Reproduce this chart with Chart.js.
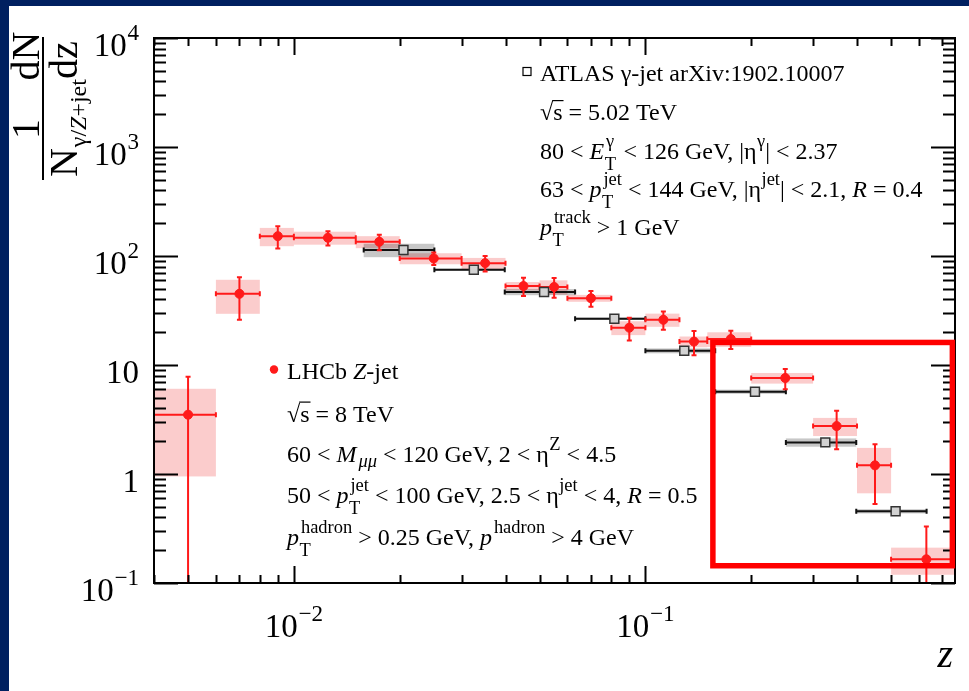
<!DOCTYPE html>
<html>
<head>
<meta charset="utf-8">
<script src="https://cdn.jsdelivr.net/npm/chart.js@4.4.1/dist/chart.umd.min.js"></script>
<style>
  html, body { margin: 0; padding: 0; background: #fff; }
  canvas { display: block; }
</style>
</head>
<body>
<canvas id="chartZ" width="969" height="691"></canvas>
<script>
// ===== axis ranges =====
const X_MIN = 0.004, X_MAX = 0.76;
const Y_MIN = 0.1, Y_MAX = 1e4;

// ===== LHCb Z-jet, sqrt(s) = 8 TeV =====
const lhcbZ     = [0.005, 0.007, 0.009, 0.0125, 0.0175, 0.025, 0.035, 0.045, 0.055, 0.07, 0.09, 0.1125, 0.1375, 0.175, 0.25, 0.35, 0.45, 0.63];
const lhcbZLow  = [0.004, 0.006, 0.008, 0.01, 0.015, 0.02, 0.03, 0.04, 0.05, 0.06, 0.08, 0.1, 0.125, 0.15, 0.2, 0.3, 0.4, 0.5];
const lhcbZHigh = [0.006, 0.008, 0.01, 0.015, 0.02, 0.03, 0.04, 0.05, 0.06, 0.08, 0.1, 0.125, 0.15, 0.2, 0.3, 0.4, 0.5, 0.76];
const lhcbVal   = [3.5, 45, 152, 147, 135, 95, 86, 53, 52, 41, 22, 26, 16.4, 17.3, 7.6, 2.75, 1.2, 0.165];
const lhcbStat  = [4.3, 19, 35, 22, 22, 12.5, 14, 10, 10.7, 6.7, 5.2, 4.9, 4.1, 3.3, 1.6, 1.06, 0.67, 0.165];
const lhcbSyst  = [2.55, 15.5, 29, 20, 17, 11, 10, 4.7, 7.8, 3, 3.2, 3.6, 1.85, 2.65, 0.85, 0.52, 0.535, 0.046];

// ===== ATLAS gamma-jet, sqrt(s) = 5.02 TeV =====
const atlasZ     = [0.0205, 0.0325, 0.0515, 0.0816, 0.129, 0.205, 0.325, 0.515];
const atlasZLow  = [0.0158, 0.0251, 0.0398, 0.0631, 0.1, 0.158, 0.251, 0.398];
const atlasZHigh = [0.0251, 0.0398, 0.0631, 0.1, 0.158, 0.251, 0.398, 0.631];
const atlasVal   = [113.5, 74.8, 46.7, 26.6, 13.5, 5.69, 1.95, 0.455];
const atlasSyst  = [16, 1.5, 3, 0.6, 0.7, 0.25, 0.17, 0.02];

// high-z region marked with a frame
const boxZ = [0.1556, 0.747];
const boxY = [0.144, 16.1];

// tick labels: [mantissa, exponent]
const yMajor  = [0.1, 1, 10, 100, 1000, 10000];
const yLabels = [['10', '−1'], ['1', ''], ['10', ''], ['10', '2'], ['10', '3'], ['10', '4']];
const xMajor  = [0.01, 0.1];
const xLabels = [['10', '−2'], ['10', '−1']];

const NAVY = '#002060';
const RED = '#ff1a1a';
const SERIF = '"Liberation Serif", "Times New Roman", serif';

function fontOf(size, italic) {
  return (italic ? 'italic ' : '') + size + 'px ' + SERIF;
}

// ----- small TLatex-like text helper -----
function scriptRuns(s) {
  return typeof s === 'string' ? [{ t: s }] : s;
}
function measureRuns(ctx, runs, size) {
  let w = 0;
  runs.forEach(r => { ctx.font = fontOf(size, r.it); w += ctx.measureText(r.t).width; });
  return w;
}
function drawRuns(ctx, runs, x, y, size) {
  runs.forEach(r => {
    ctx.font = fontOf(size, r.it);
    ctx.fillText(r.t, x, y);
    x += ctx.measureText(r.t).width;
  });
}
function partWidth(ctx, p, size, k) {
  ctx.font = fontOf(size, p.it);
  let w = ctx.measureText(p.t).width;
  if (p.root) w += ctx.measureText('√').width;
  let sw = 0;
  if (p.sup) sw = Math.max(sw, measureRuns(ctx, scriptRuns(p.sup), size * k));
  if (p.sub) sw = Math.max(sw, measureRuns(ctx, scriptRuns(p.sub), size * k));
  if (sw) w += sw + size * (p.it ? 0.08 : 0.02);
  return w;
}
function drawRich(ctx, parts, x, y, size, align, k) {
  k = k || 0.77;
  let total = 0;
  parts.forEach(p => { total += partWidth(ctx, p, size, k); });
  if (align === 'center') x -= total / 2;
  if (align === 'right') x -= total;
  ctx.textAlign = 'left';
  ctx.textBaseline = 'alphabetic';
  parts.forEach(p => {
    ctx.font = fontOf(size, p.it);
    if (p.root) {
      const m = ctx.measureText('√');
      ctx.fillText('√', x, y);
      x += m.width;
      const sw = ctx.measureText(p.t).width;
      ctx.fillRect(x - 1, y - m.actualBoundingBoxAscent, sw + 2, Math.max(1, size * 0.05));
      ctx.fillText(p.t, x, y);
      x += sw;
      return;
    }
    ctx.fillText(p.t, x, y);
    x += ctx.measureText(p.t).width;
    if (p.sup || p.sub) {
      const ss = size * k;
      const sx = x + size * (p.it ? 0.08 : 0.02);
      let sw = 0;
      if (p.sup) {
        const r = scriptRuns(p.sup);
        drawRuns(ctx, r, sx, y - size * 0.48, ss);
        sw = Math.max(sw, measureRuns(ctx, r, ss));
      }
      if (p.sub) {
        const r = scriptRuns(p.sub);
        const dx = p.it && p.sup ? -size * 0.06 : 0;
        drawRuns(ctx, r, sx + dx, y + size * (p.sup ? 0.44 : 0.22), ss);
        sw = Math.max(sw, measureRuns(ctx, r, ss));
      }
      x = sx + sw;
    }
  });
}

// ----- legend text -----
const atlasText = [
  [{ t: 'ATLAS γ-jet arXiv:1902.10007' }],
  [{ t: 's', root: true }, { t: ' = 5.02 TeV' }],
  [{ t: '80 < ' }, { t: 'E', it: true, sub: 'T', sup: 'γ' }, { t: ' < 126 GeV, |η', sup: 'γ' }, { t: '| < 2.37' }],
  [{ t: '63 < ' }, { t: 'p', it: true, sub: 'T', sup: 'jet' }, { t: ' < 144 GeV, |η', sup: 'jet' }, { t: '| < 2.1, ' }, { t: 'R', it: true }, { t: ' = 0.4' }],
  [{ t: 'p', it: true, sub: 'T', sup: 'track' }, { t: ' > 1 GeV' }]
];
const lhcbText = [
  [{ t: 'LHCb ' }, { t: 'Z', it: true }, { t: '-jet' }],
  [{ t: 's', root: true }, { t: ' = 8 TeV' }],
  [{ t: '60 < ' }, { t: 'M', it: true, sub: [{ t: 'μμ', it: true }] }, { t: ' < 120 GeV, 2 < η', sup: 'Z' }, { t: ' < 4.5' }],
  [{ t: '50 < ' }, { t: 'p', it: true, sub: 'T', sup: 'jet' }, { t: ' < 100 GeV, 2.5 < η', sup: 'jet' }, { t: ' < 4, ' }, { t: 'R', it: true }, { t: ' = 0.5' }],
  [{ t: 'p', it: true, sub: 'T', sup: 'hadron' }, { t: ' > 0.25 GeV, ' }, { t: 'p', it: true, sup: 'hadron' }, { t: ' > 4 GeV' }]
];
const atlasRows = [80.5, 120, 159, 197, 235];
const lhcbRows = [379, 421.5, 462, 503, 545];

function logTicks(min, max) {
  const out = [];
  for (let e = Math.floor(Math.log10(min)); e <= Math.ceil(Math.log10(max)); e++) {
    for (let k = 1; k <= 9; k++) {
      const v = k * Math.pow(10, e);
      if (v >= min * 0.9999 && v <= max * 1.0001) out.push({ v, major: k === 1 });
    }
  }
  return out;
}

function hBar(ctx, x0, x1, y, cap) {
  ctx.moveTo(x0, y); ctx.lineTo(x1, y);
  ctx.moveTo(x0, y - cap); ctx.lineTo(x0, y + cap);
  ctx.moveTo(x1, y - cap); ctx.lineTo(x1, y + cap);
}
function vBar(ctx, x, y0, y1, cap) {
  ctx.moveTo(x, y0); ctx.lineTo(x, y1);
  ctx.moveTo(x - cap, y0); ctx.lineTo(x + cap, y0);
  ctx.moveTo(x - cap, y1); ctx.lineTo(x + cap, y1);
}

const rootStyle = {
  id: 'rootStyle',
  beforeDraw(chart) {
    const ctx = chart.ctx;
    ctx.save();
    ctx.fillStyle = NAVY;
    ctx.fillRect(0, 0, chart.width, chart.height);
    ctx.fillStyle = '#ffffff';
    ctx.fillRect(9, 6, chart.width - 9, chart.height - 6);
    ctx.restore();
  },

  // systematic boxes and error bars under the markers
  beforeDatasetsDraw(chart) {
    const { ctx, chartArea: a, scales: { x, y } } = chart;
    const lo = v => Math.max(v, Y_MIN * 0.5);
    ctx.save();
    ctx.beginPath();
    ctx.rect(a.left, a.top, a.right - a.left, a.bottom - a.top);
    ctx.clip();

    ctx.fillStyle = 'rgba(240, 40, 40, 0.24)';
    lhcbZ.forEach((z, i) => {
      const x0 = x.getPixelForValue(lhcbZLow[i]), x1 = x.getPixelForValue(lhcbZHigh[i]);
      const y0 = y.getPixelForValue(lhcbVal[i] + lhcbSyst[i]);
      const y1 = y.getPixelForValue(lo(lhcbVal[i] - lhcbSyst[i]));
      ctx.fillRect(x0, y0, x1 - x0, y1 - y0);
    });

    ctx.fillStyle = 'rgba(40, 40, 40, 0.26)';
    atlasZ.forEach((z, i) => {
      const x0 = x.getPixelForValue(atlasZLow[i]), x1 = x.getPixelForValue(atlasZHigh[i]);
      const y0 = y.getPixelForValue(atlasVal[i] + atlasSyst[i]);
      const y1 = y.getPixelForValue(lo(atlasVal[i] - atlasSyst[i]));
      ctx.fillRect(x0, y0, x1 - x0, Math.max(y1 - y0, 1));
    });

    ctx.lineWidth = 2;
    ctx.strokeStyle = '#111111';
    ctx.beginPath();
    atlasZ.forEach((z, i) => {
      hBar(ctx, x.getPixelForValue(atlasZLow[i]), x.getPixelForValue(atlasZHigh[i]),
        y.getPixelForValue(atlasVal[i]), 2.5);
    });
    ctx.stroke();

    ctx.strokeStyle = RED;
    ctx.beginPath();
    lhcbZ.forEach((z, i) => {
      const py = y.getPixelForValue(lhcbVal[i]);
      const px = x.getPixelForValue(z);
      hBar(ctx, x.getPixelForValue(lhcbZLow[i]), x.getPixelForValue(lhcbZHigh[i]), py, 2.5);
      vBar(ctx, px, y.getPixelForValue(lhcbVal[i] + lhcbStat[i]),
        y.getPixelForValue(lo(lhcbVal[i] - lhcbStat[i])), 2.5);
    });
    ctx.stroke();
    ctx.restore();
  },

  afterDatasetsDraw(chart) {
    const { ctx, chartArea: a, scales: { x, y } } = chart;
    ctx.save();
    ctx.fillStyle = '#000';
    ctx.strokeStyle = '#000';

    // frame
    ctx.lineWidth = 2;
    ctx.strokeRect(a.left, a.top, a.right - a.left, a.bottom - a.top);

    // inward ticks on all four sides
    ctx.beginPath();
    logTicks(X_MIN, X_MAX).forEach(t => {
      const px = Math.round(x.getPixelForValue(t.v)) + 0.5;
      const len = t.major ? 17 : 8;
      ctx.moveTo(px, a.bottom); ctx.lineTo(px, a.bottom - len);
      ctx.moveTo(px, a.top); ctx.lineTo(px, a.top + len);
    });
    logTicks(Y_MIN, Y_MAX).forEach(t => {
      const py = Math.round(y.getPixelForValue(t.v)) + 0.5;
      const len = t.major ? 24 : 12;
      ctx.moveTo(a.left, py); ctx.lineTo(a.left + len, py);
      ctx.moveTo(a.right, py); ctx.lineTo(a.right - len, py);
    });
    ctx.stroke();

    // tick labels
    yMajor.forEach((v, i) => {
      const [m, e] = yLabels[i];
      const parts = e ? [{ t: m, sup: e }] : [{ t: m }];
      drawRich(ctx, parts, 139, y.getPixelForValue(v) + 18, 33, 'right', 0.7);
    });
    xMajor.forEach((v, i) => {
      const [m, e] = xLabels[i];
      drawRich(ctx, [{ t: m, sup: e }], x.getPixelForValue(v), 637, 33, 'center', 0.7);
    });

    // axis titles
    drawRich(ctx, [{ t: 'z', it: true }], 953, 667, 40, 'right');
    ctx.save();
    ctx.rotate(-Math.PI / 2);
    drawRich(ctx, [{ t: '1' }], -129, 39, 40, 'center');
    drawRich(ctx, [{ t: 'dN' }], -56, 39, 40, 'center');
    drawRich(ctx, [{ t: 'N', sub: [{ t: 'γ/' }, { t: 'Z', it: true }, { t: '+jet' }] }], -128, 77, 40, 'center', 0.6);
    drawRich(ctx, [{ t: 'dz' }], -60, 77, 40, 'center');
    ctx.fillRect(-180, 42, 143, 2);
    ctx.restore();

    // legends
    ctx.lineWidth = 1.2;
    ctx.strokeStyle = '#000';
    ctx.fillStyle = '#fff';
    ctx.fillRect(523, 67.5, 8, 8);
    ctx.strokeRect(523, 67.5, 8, 8);
    ctx.fillStyle = '#000';
    atlasText.forEach((row, i) => drawRich(ctx, row, 540, atlasRows[i], 24, 'left'));

    ctx.fillStyle = RED;
    ctx.beginPath();
    ctx.arc(274, 369.5, 4.2, 0, Math.PI * 2);
    ctx.fill();
    ctx.fillStyle = '#000';
    lhcbText.forEach((row, i) => drawRich(ctx, row, 287, lhcbRows[i], 24, 'left'));

    // frame round the high-z region
    const bx0 = x.getPixelForValue(boxZ[0]), bx1 = x.getPixelForValue(boxZ[1]);
    const by0 = y.getPixelForValue(boxY[1]), by1 = y.getPixelForValue(boxY[0]);
    ctx.strokeStyle = '#ff0000';
    ctx.lineWidth = 5.5;
    ctx.strokeRect(bx0, by0, bx1 - bx0, by1 - by0);
    ctx.restore();
  }
};

new Chart(document.getElementById('chartZ'), {
  type: 'scatter',
  data: {
    datasets: [
      {
        label: 'LHCb Z-jet',
        data: lhcbZ.map((z, i) => ({ x: z, y: lhcbVal[i] })),
        pointStyle: 'circle',
        pointRadius: 4.5,
        backgroundColor: RED,
        borderColor: RED,
        borderWidth: 1
      },
      {
        label: 'ATLAS γ-jet',
        data: atlasZ.map((z, i) => ({ x: z, y: atlasVal[i] })),
        pointStyle: 'rect',
        pointRadius: 6.3,
        backgroundColor: '#d2d2d2',
        borderColor: '#333333',
        borderWidth: 1.5
      }
    ]
  },
  options: {
    responsive: false,
    animation: false,
    devicePixelRatio: 1,
    events: [],
    layout: { padding: { left: 154, top: 38, right: 14, bottom: 108 } },
    scales: {
      x: { type: 'logarithmic', min: X_MIN, max: X_MAX, display: false },
      y: { type: 'logarithmic', min: Y_MIN, max: Y_MAX, display: false }
    },
    plugins: {
      legend: { display: false },
      tooltip: { enabled: false }
    }
  },
  plugins: [rootStyle]
});
</script>
</body>
</html>
